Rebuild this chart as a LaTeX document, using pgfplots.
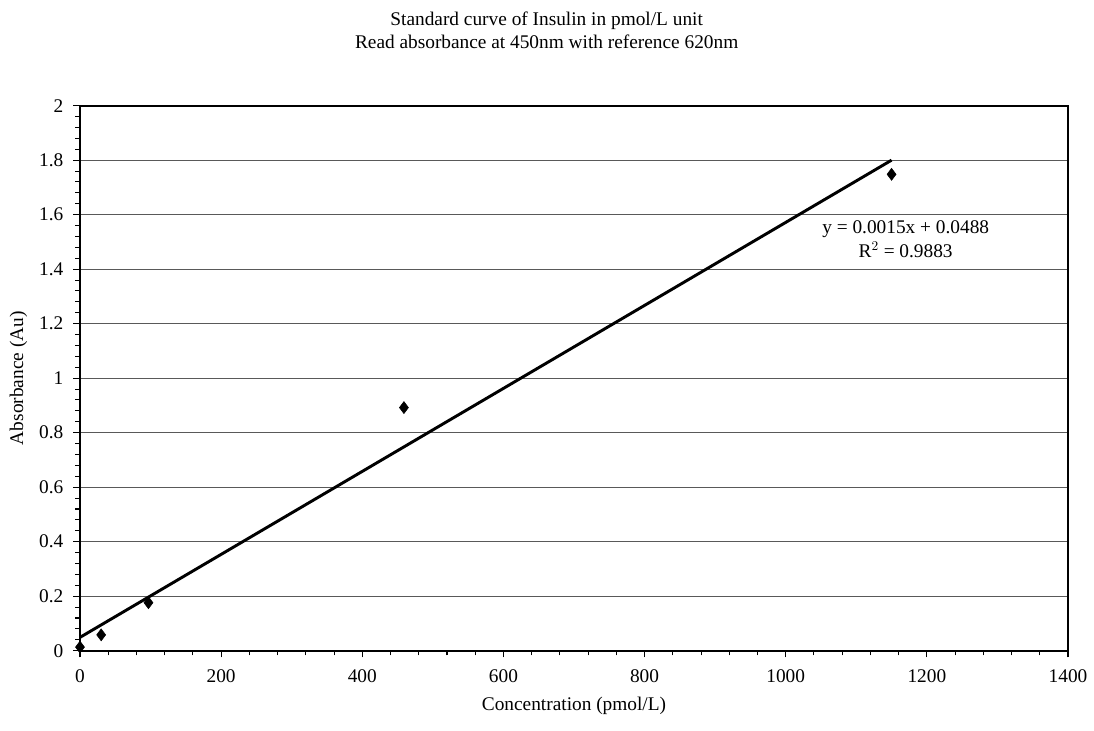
\documentclass[border=0pt]{standalone}
\usepackage{pgfplots}
\pgfplotsset{compat=1.18}
\usepackage{fontspec}
\setmainfont{Liberation Serif}
\newcommand{\fs}{\fontsize{14.5}{17.5}\selectfont}
\begin{document}
\begin{tikzpicture}
\useasboundingbox (-60pt,-60.2pt) rectangle (760.5pt,488pt);
\begin{axis}[
  at={(0pt,0pt)}, anchor=south west,
  scale only axis, width=741pt, height=408.75pt,
  xmin=0, xmax=1400, ymin=0, ymax=2,
  xtick={0,200,400,600,800,1000,1200,1400},
  ytick={0,0.2,0.4,0.6,0.8,1,1.2,1.4,1.6,1.8,2},
  yticklabels={0,0.2,0.4,0.6,0.8,1,1.2,1.4,1.6,1.8,2},
  minor x tick num=4, minor y tick num=4,
  tick align=outside, xtick pos=left, ytick pos=left,
  major tick length=5pt, minor tick length=3.5pt,
  tick style={black, line width=0.8pt},
  ymajorgrids,
  major grid style={black!65, line width=0.9pt},
  axis line style={black, line width=1.3pt},
  /pgf/number format/assume math mode=true,
  /pgf/number format/1000 sep={},
  ticklabel style={font=\fs},
  xticklabel style={yshift=-6pt},
  yticklabel style={xshift=-4pt},
  label style={font=\fs},
  xlabel={Concentration (pmol/L)},
  xlabel style={yshift=-4pt},
  ylabel={Absorbance (Au)},
  ylabel style={yshift=2pt},
  clip=false,
]
\addplot[only marks, mark=diamond*, mark size=4.5pt, black] coordinates {
  (0,0.013) (30,0.058) (97,0.176) (459,0.892) (1150,1.748)
};
\addplot[black, line width=2.2pt, no marks] coordinates {
  (0,0.0488) (1150,1.8)
};
\node[font=\fs, align=center, anchor=center] at (axis cs:1170,1.51) {y = 0.0015x + 0.0488\\[1pt]R$^{2}$ = 0.9883};
\end{axis}
\node[font=\fs, align=center] at (350pt,465.5pt) {Standard curve of Insulin in pmol/L unit\\Read absorbance at 450nm with reference 620nm};
\end{tikzpicture}
\end{document}
